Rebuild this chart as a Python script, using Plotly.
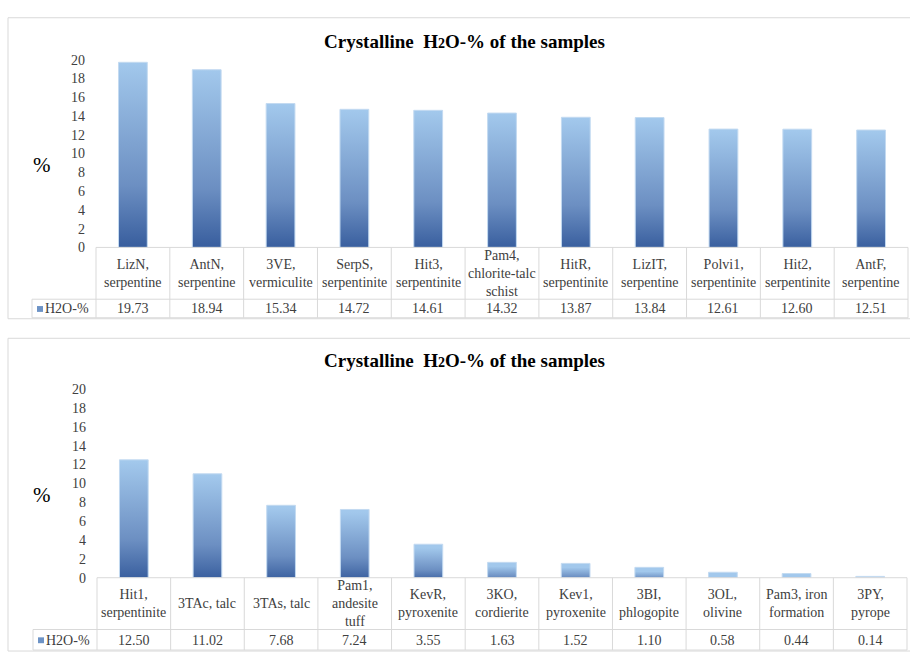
import plotly.graph_objects as go

# ---------------- data ----------------
cats_top = ["LizN,<br>serpentine", "AntN,<br>serpentine", "3VE,<br>vermiculite",
            "SerpS,<br>serpentinite", "Hit3,<br>serpentinite", "Pam4,<br>chlorite-talc<br>schist",
            "HitR,<br>serpentinite", "LizIT,<br>serpentine", "Polvi1,<br>serpentinite",
            "Hit2,<br>serpentinite", "AntF,<br>serpentine"]
vals_top = [19.73, 18.94, 15.34, 14.72, 14.61, 14.32, 13.87, 13.84, 12.61, 12.60, 12.51]

cats_bot = ["Hit1,<br>serpentinite", "3TAc, talc", "3TAs, talc", "Pam1,<br>andesite<br>tuff",
            "KevR,<br>pyroxenite", "3KO,<br>cordierite", "Kev1,<br>pyroxenite",
            "3BI,<br>phlogopite", "3OL,<br>olivine", "Pam3, iron<br>formation", "3PY,<br>pyrope"]
vals_bot = [12.50, 11.02, 7.68, 7.24, 3.55, 1.63, 1.52, 1.10, 0.58, 0.44, 0.14]

series_name = "H2O-%"
title_text = "Crystalline&nbsp; H<span style='font-size:14px'>2</span>O-% of the samples"
y_ticks = [0, 2, 4, 6, 8, 10, 12, 14, 16, 18, 20]

# ---------------- layout helpers ----------------
W, H = 910, 660
def px(x):
    return x / W
def py(y):
    return 1 - y / H

FONT = "Liberation Serif, Times New Roman, serif"
GRID = "#d9d9d9"
TXT = "#404040"
GRAD = [[0.0, "#345a9b"], [0.35, "#6c8fc2"], [1.0, "#a2c8ec"]]

charts = [
    dict(cats=cats_top, vals=vals_top, xa="x", ya="y", left=96, right=908,
         y0=246, ytop=54, hb=299, vb=318, frame=(8, 11, 912, 319), ty=35, leg=32),
    dict(cats=cats_bot, vals=vals_bot, xa="x2", ya="y2", left=97, right=907,
         y0=584, ytop=391, hb=637, vb=658, frame=(8, 339, 912, 659), ty=362, leg=33),
]

fig = go.Figure()
shapes = []
annotations = []
bw = 0.195

def ann(**kw):
    d = dict(showarrow=False, xanchor="center", yanchor="middle")
    d.update(kw)
    annotations.append(d)

for k, c in enumerate(charts):
    n = len(c["cats"])
    # bars as gradient-filled polygons, one trace per bar
    for i, v in enumerate(c["vals"]):
        fig.add_trace(go.Scatter(
            x=[i - bw, i - bw, i + bw, i + bw, i - bw],
            y=[0, v, v, 0, 0],
            xaxis=c["xa"], yaxis=c["ya"],
            mode="lines", fill="toself",
            line=dict(color="#c3daf1", width=1),
            fillgradient=dict(type="vertical", colorscale=GRAD, start=0, stop=v),
            showlegend=False, hoverinfo="skip",
        ))
    xr = c["xa"]
    colw = (c["right"] - c["left"]) / n
    # outer frame
    f = c["frame"]
    shapes.append(dict(type="rect", xref="paper", yref="paper",
                       x0=px(f[0]), x1=px(f[2]), y0=py(f[3]), y1=py(f[1]),
                       line=dict(color=GRID, width=1), fillcolor="rgba(0,0,0,0)", layer="below"))
    # table horizontal lines
    shapes.append(dict(type="line", xref="paper", yref="paper",
                       x0=px(c["left"]), x1=px(c["right"]), y0=py(c["y0"]), y1=py(c["y0"]),
                       line=dict(color=GRID, width=1)))
    for yy in (c["hb"], c["vb"]):
        shapes.append(dict(type="line", xref="paper", yref="paper",
                           x0=px(c["leg"]), x1=px(c["right"]), y0=py(yy), y1=py(yy),
                           line=dict(color=GRID, width=1)))
    # vertical lines
    shapes.append(dict(type="line", xref="paper", yref="paper",
                       x0=px(c["leg"]), x1=px(c["leg"]), y0=py(c["hb"]), y1=py(c["vb"]),
                       line=dict(color=GRID, width=1)))
    for i in range(n + 1):
        xx = c["left"] + i * colw
        shapes.append(dict(type="line", xref="paper", yref="paper",
                           x0=px(xx), x1=px(xx), y0=py(c["y0"]), y1=py(c["vb"]),
                           line=dict(color=GRID, width=1)))
    # category labels and values
    for i, (cat, v) in enumerate(zip(c["cats"], c["vals"])):
        ann(x=i, xref=xr, y=py((c["y0"] + c["hb"]) / 2), yref="paper",
            text=cat, align="center", font=dict(family=FONT, size=14, color=TXT))
        ann(x=i, xref=xr, y=py((c["hb"] + c["vb"]) / 2 + 0.5), yref="paper",
            text=f"{v:.2f}", font=dict(family=FONT, size=14, color=TXT))
    # legend cell
    ly = (c["hb"] + c["vb"]) / 2
    shapes.append(dict(type="rect", xref="paper", yref="paper",
                       x0=px(c["leg"] + 5), x1=px(c["leg"] + 11), y0=py(ly + 3.5), y1=py(ly - 2.5),
                       line=dict(width=0), fillcolor="#6d93c6"))
    ann(x=px(c["leg"] + 11), xref="paper", y=py(ly + 0.5), yref="paper",
        xanchor="left", text=series_name, font=dict(family=FONT, size=14, color=TXT))
    # title
    ann(x=px(465), xref="paper", y=py(c["ty"]), yref="paper",
        text="<b>" + title_text + "</b>", font=dict(family=FONT, size=19, color="#000000"))
    # y title
    ann(x=px(42), xref="paper", y=py((c["y0"] + c["ytop"]) / 2 + 12), yref="paper",
        text="%", font=dict(family=FONT, size=21, color="#000000"))

    axis_x = dict(domain=[px(c["left"]), px(c["right"])], range=[-0.5, n - 0.5],
                  showticklabels=False, showgrid=False, zeroline=False, showline=False,
                  ticks="", fixedrange=True)
    axis_y = dict(domain=[py(c["y0"]), py(c["ytop"])], range=[0, 20],
                  tickvals=y_ticks, ticktext=[str(t) for t in y_ticks],
                  showgrid=False, zeroline=False, showline=False, ticks="",
                  ticklabelstandoff=10,
                  tickfont=dict(family=FONT, size=14, color=TXT), fixedrange=True)
    if k == 0:
        axis_y["anchor"] = "x"
        axis_x["anchor"] = "y"
        fig.update_layout(xaxis=axis_x, yaxis=axis_y)
    else:
        axis_y["anchor"] = "x2"
        axis_x["anchor"] = "y2"
        fig.update_layout(xaxis2=axis_x, yaxis2=axis_y)

fig.update_layout(
    width=W, height=H, margin=dict(l=0, r=0, t=0, b=0),
    paper_bgcolor="white", plot_bgcolor="white",
    shapes=shapes, annotations=annotations, showlegend=False,
    font=dict(family=FONT),
)

fig.write_html("out.html", config={"displayModeBar": False},
               post_script="document.body.style.margin='0';document.body.style.overflow='hidden';")
